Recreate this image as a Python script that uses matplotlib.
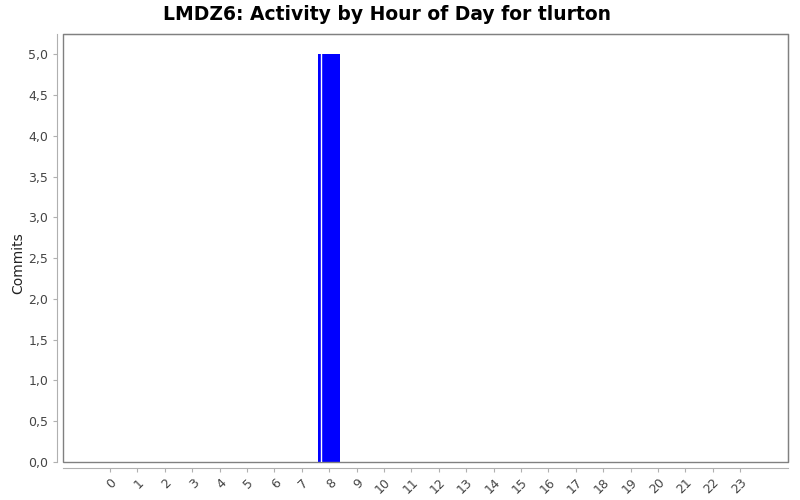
import numpy as np
import matplotlib
matplotlib.use('Agg')
import matplotlib.pyplot as plt
from matplotlib.patches import Rectangle
from matplotlib.ticker import FuncFormatter

# Data
hours = [str(h) for h in range(24)]
commits = [0, 0, 0, 0, 0, 0, 0, 0, 5, 0, 0, 0, 0, 0, 0, 0, 0, 0, 0, 0, 0, 0, 0, 0]
y_ticks = [0, 0.5, 1, 1.5, 2, 2.5, 3, 3.5, 4, 4.5, 5]

fig = plt.figure(figsize=(8, 5), dpi=100)
ax = fig.add_axes([63/800, 38/500, 725/800, 428/500])

x = np.arange(len(hours))
ax.bar(x, commits, width=0.8, color='#0000ff', linewidth=0)
# thin white highlight line inside each bar (JFreeChart look)
for xi, c in zip(x, commits):
    if c > 0:
        ax.plot([xi - 0.4 + 0.09, xi - 0.4 + 0.09], [0, c], color='white', lw=1.0)

ax.set_xlim(-1.72, 24.75)
ax.set_ylim(0, 5.25)

for s in ['top', 'right']:
    ax.spines[s].set_color('#808080')
for s in ['left', 'bottom']:
    ax.spines[s].set_position(('outward', 4))
    ax.spines[s].set_color('#b0b0b0')
ax.add_patch(Rectangle((0, 0), 1, 1, transform=ax.transAxes, fill=False,
                       edgecolor='#808080', lw=1.0, clip_on=False))

ax.tick_params(axis='both', colors='#b0b0b0', labelcolor='#444444', labelsize=9, length=3)
ax.tick_params(axis='x', pad=3)

ax.set_yticks(y_ticks)
ax.yaxis.set_major_formatter(FuncFormatter(lambda v, p: ('%.1f' % v).replace('.', ',')))
ax.set_xticks(x)
ax.set_xticklabels(hours)
for lbl in ax.get_xticklabels():
    lbl.set_rotation(45)
    lbl.set_ha('right')
    lbl.set_va('top')
    lbl.set_rotation_mode('anchor')

ax.set_ylabel('Commits', fontsize=10, color='#222222')
ax.yaxis.set_label_coords(-0.052, 0.465)
fig.text(0.484, 0.972, 'LMDZ6: Activity by Hour of Day for tlurton', fontsize=13.5,
         fontweight='bold', ha='center', va='center')

fig.savefig('out.png', dpi=100)
